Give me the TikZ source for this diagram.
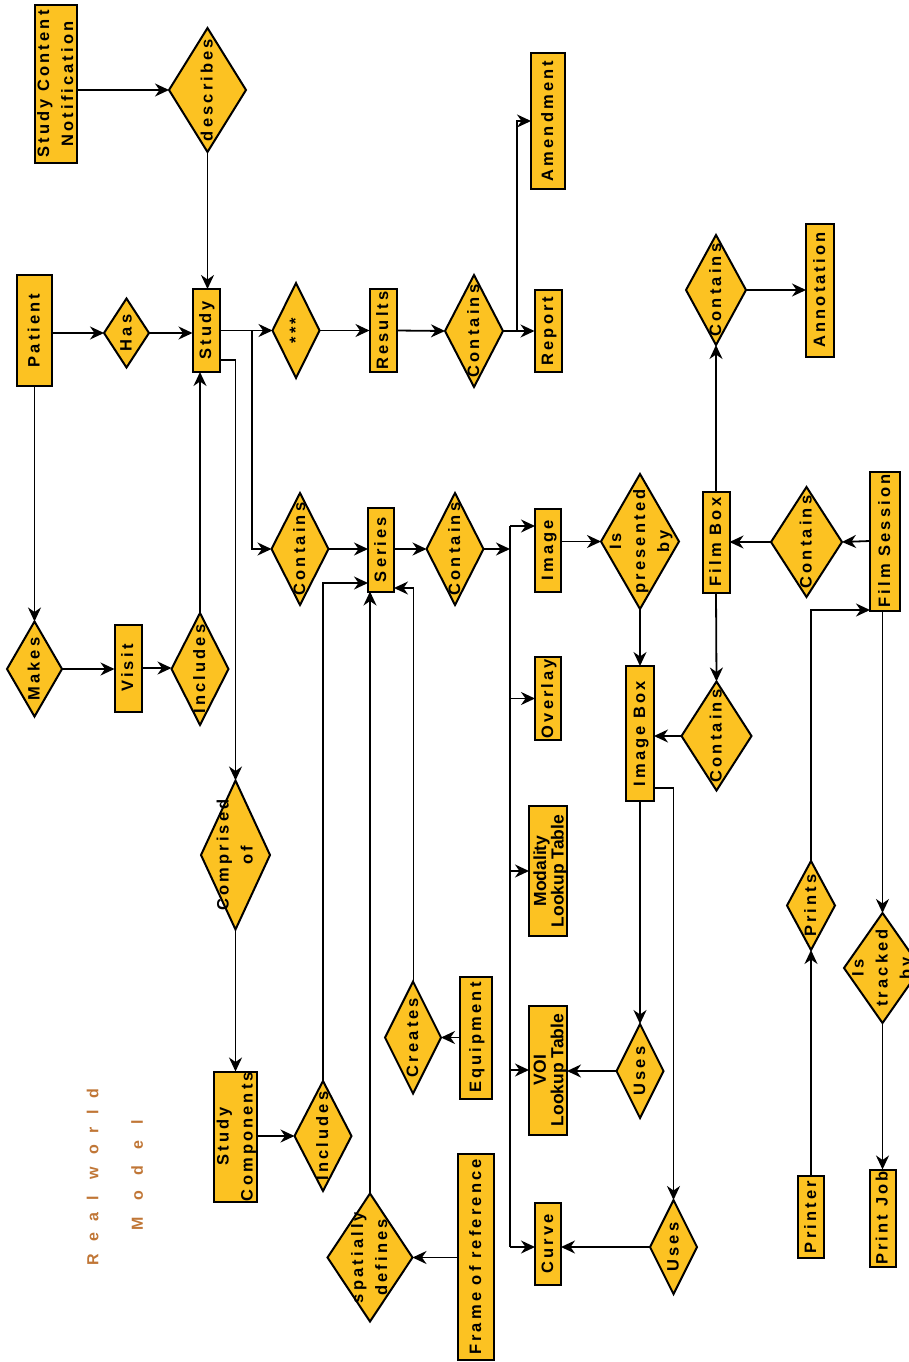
\documentclass[tikz,border=0pt]{standalone}
\usepackage{fontspec}
\setmainfont{Liberation Sans}
\newfontfamily\labfont{Liberation Sans}[LetterSpace=19]
\newfontfamily\condfont{Liberation Sans}
\newfontfamily\rwfontA{Liberation Sans}[LetterSpace=75]
\newfontfamily\rwfontB{Liberation Sans}[LetterSpace=100]
\usetikzlibrary{shapes.geometric,arrows.meta,calc}
\definecolor{fillc}{HTML}{FCC222}
\definecolor{rwc}{HTML}{C07636}
\newcommand\rl[2][4.6pt]{\rotatebox{90}{\makebox[0pt]{\smash{\raisebox{-#1}{\begin{tabular}{@{}c@{}}#2\end{tabular}}}}}}
\tikzset{
  shp/.style={draw=black,line width=2pt,fill=fillc,inner sep=0pt,outer sep=0pt,
    font=\labfont\bfseries\fontsize{16.5}{24}\selectfont},
  box/.style 2 args={shp,rectangle,minimum width=#1pt,minimum height=#2pt},
  dia/.style 2 args={shp,diamond,minimum width=#1pt,minimum height=#2pt},
  cond/.style={font=\condfont\bfseries\fontsize{17.5}{16}\selectfont},
  conn/.style={line width=1.8pt,-{Stealth[length=14pt,width=13pt,inset=4.5pt]}},
  plain/.style={line width=1.8pt},
  rwtext/.style={inner sep=0pt,text=rwc}
}
\begin{document}
\begin{tikzpicture}[x=1pt,y=-1pt]
\useasboundingbox (0,0) rectangle (909,1362);
\clip (0,0) rectangle (909,1362);
% ---------- nodes ----------
\node[box={42}{158}] (scn) at (56,84) {\rl{Study Content\\Notification}};
\node[dia={77}{124}] (describes) at (207.5,90) {\rl{describes}};
\node[box={35}{111}] (patient) at (34.5,330.5) {\rl{Patient}};
\node[dia={45}{69}] (has) at (126.5,333) {\rl{Has}};
\node[box={27}{83}] (study) at (206,330.5) {\rl{Study}};
\node[dia={47}{95}] (stars) at (296,330.5) {\rl{***}};
\node[box={27}{83}] (results) at (383,330.5) {\rl{Results}};
\node[dia={58}{112}] (containsR) at (474,331) {\rl{Contains}};
\node[box={27}{82}] (report) at (548,331) {\rl{Report}};
\node[box={34}{136}] (amendment) at (548,121) {\rl{Amendment}};
\node[dia={60}{110}] (containsA) at (716,290) {\rl{Contains}};
\node[box={28}{133}] (annotation) at (820,290) {\rl{Annotation}};
\node[box={27}{101}] (filmbox) at (716,542) {\rl{Film Box}};
\node[dia={78}{135}] (presented) at (640,541.5) {\rl{Is\\presented\\by}};
\node[dia={71}{110}] (containsFB) at (806.5,542) {\rl{Contains}};
\node[box={30}{139}] (filmsession) at (885,541) {\rl{Film Session}};
\node[dia={55}{95}] (makes) at (34.5,669) {\rl{Makes}};
\node[box={27}{87}] (visit) at (128,668) {\rl{Visit}};
\node[dia={57}{112}] (includesV) at (200,669) {\rl{Includes}};
\node[dia={57}{112}] (containsS) at (300,549) {\rl{Contains}};
\node[box={26}{84}] (series) at (381,549.5) {\rl{Series}};
\node[dia={57}{112}] (containsI) at (455,549) {\rl{Contains}};
\node[box={26}{83}] (image) at (548,550) {\rl{Image}};
\node[box={26}{83}] (overlay) at (548,698.5) {\rl{Overlay}};
\node[box={28}{135}] (imagebox) at (640,733.5) {\rl{Image Box}};
\node[dia={70}{109}] (containsIB) at (716.5,736) {\rl{Contains}};
\node[dia={69}{149}] (comprised) at (235.5,855) {\rl{Comprised\\of}};
\node[box={38}{130},cond] (modality) at (548,871) {\rl[7.3pt]{Modality\\Lookup Table}};
\node[dia={48}{89}] (prints) at (811,905.5) {\rl{Prints}};
\node[dia={77}{110}] (tracked) at (882.5,968) {\rl{Is\\tracked\\by}};
\node[dia={56}{112}] (creates) at (413,1037.5) {\rl{Creates}};
\node[box={32}{122}] (equipment) at (476,1037.5) {\rl{Equipment}};
\node[box={38}{129},cond] (voi) at (548,1070) {\rl[7.3pt]{VOI\\Lookup Table}};
\node[dia={47}{94}] (usesV) at (640,1071) {\rl{Uses}};
\node[box={43}{130}] (stcomp) at (235.5,1136.5) {\rl{Study\\Components}};
\node[dia={57}{110}] (includesSC) at (323,1136) {\rl{Includes}};
\node[dia={85}{128}] (spatially) at (370,1257.5) {\rl{spatially\\defines}};
\node[box={36}{206}] (frame) at (476,1257) {\rl{Frame of reference}};
\node[box={26}{82}] (curve) at (548,1244) {\rl{Curve}};
\node[dia={47}{94}] (usesC) at (673.5,1247) {\rl{Uses}};
\node[box={26}{82}] (printer) at (811,1217) {\rl{Printer}};
\node[box={26}{97}] (printjob) at (882.5,1218) {\rl{Print Job}};
\node[rwtext,font=\rwfontA\bfseries\fontsize{16}{20}\selectfont] (rw1) at (93,1177) {\rl[5.8pt]{Real world}};
\node[rwtext,font=\rwfontB\bfseries\fontsize{16}{20}\selectfont] (rw2) at (137.5,1175) {\rl[5.8pt]{Model}};
% ---------- helper coordinates ----------
\coordinate (jA) at (516.7,331);
\coordinate (s1) at (235.5,360);
\coordinate (s2) at (252,330.5);
\coordinate (busTop) at (510,526);
\coordinate (busBot) at (510,1247);
\coordinate (r1) at (323,583);
\coordinate (r2) at (413.5,588);
\coordinate (r3) at (673.5,788);
\coordinate (r4) at (811,610);
% ---------- connectors ----------
\draw[conn] (scn.east |- describes.west) -- (describes.west);
\draw[conn] (describes.south) -- (describes.south |- study.north);
\draw[conn] (patient.east |- has.west) -- (has.west);
\draw[conn] (has.east) -- (has.east -| study.west);
\draw[conn] (study.east) -- (stars.west);
\draw[conn] (stars.east) -- (results.west);
\draw[conn] (results.east) -- (containsR.west);
\draw[conn] (containsR.east) -- (report.west);
\draw[conn] (jA) |- (amendment.west);
\draw[conn] (containsA.east) -- (annotation.west);
\draw[conn] (filmbox.north) -- (containsA.south);
\draw[conn] (filmsession.west) -- (containsFB.east);
\draw[conn] (containsFB.west) -- (filmbox.east |- containsFB.west);
\draw[conn] (image.east |- presented.west) -- (presented.west);
\draw[conn] (presented.south) -- (imagebox.north);
\draw[conn] (filmbox.south) -- (containsIB.north);
\draw[conn] (containsIB.west) -- (imagebox.east |- containsIB.west);
\draw[conn] (patient.south) -- (makes.north);
\draw[conn] (makes.east) -- (visit.west |- makes.east);
\draw[conn] (visit.east) -- (includesV.west |- visit.east);
\draw[conn] (includesV.north) -- (includesV.north |- study.south);
\draw[conn] (study.east |- s1) -- (s1) -- (comprised.north);
\draw[conn] (s2) |- (containsS.west);
\draw[conn] (containsS.east) -- (series.west |- containsS.east);
\draw[conn] (series.east |- containsI.west) -- (containsI.west);
\draw[conn] (containsI.east) -- (containsI.east -| busTop);
\draw[plain] (busTop) -- (busBot);
\draw[conn] (busTop) -- (busTop -| image.west);
\draw[conn] (busTop |- overlay.west) -- (overlay.west);
\draw[conn] (busTop |- modality.west) -- (modality.west);
\draw[conn] (busTop |- voi.west) -- (voi.west);
\draw[conn] (busBot) -- (busBot -| curve.west);
\draw[conn] (includesSC.north) -- (r1) -- (r1 -| series.west);
\draw[conn] (creates.north -| r2) -- (r2) -- (r2 -| series.east);
\draw[conn] (spatially.north) -- (spatially.north |- series.south);
\draw[conn] (frame.west |- spatially.east) -- (spatially.east);
\draw[conn] (equipment.west |- creates.east) -- (creates.east);
\draw[conn] (comprised.south) -- (stcomp.north);
\draw[conn] (stcomp.east |- includesSC.west) -- (includesSC.west);
\draw[conn] (imagebox.south) -- (usesV.north);
\draw[conn] (imagebox.east |- r3) -- (r3) -- (usesC.north);
\draw[conn] (usesV.west) -- (voi.east |- usesV.west);
\draw[conn] (usesC.west) -- (curve.east |- usesC.west);
\draw[conn] (printer.north) -- (prints.south);
\draw[conn] (prints.north) -- (r4) -- (r4 -| filmsession.west);
\draw[conn] (tracked.north |- filmsession.south) -- (tracked.north);
\draw[conn] (tracked.south) -- (printjob.north);
\end{tikzpicture}
\end{document}
